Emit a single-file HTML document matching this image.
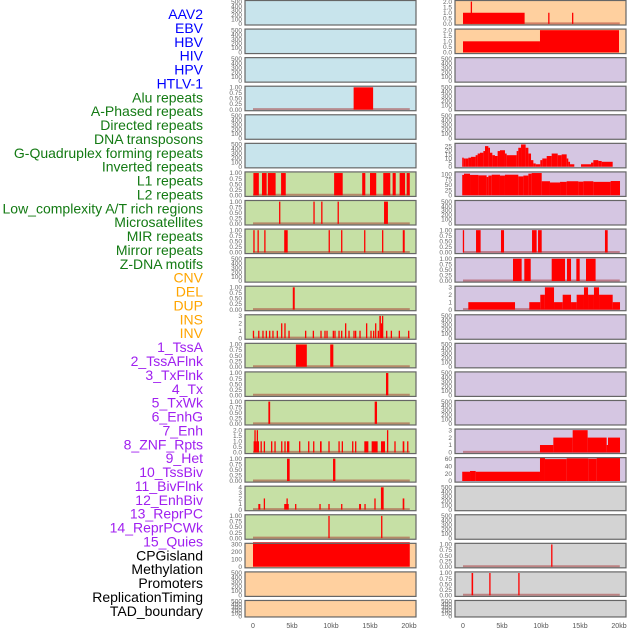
<!DOCTYPE html>
<html><head><meta charset="utf-8"><style>
html,body{margin:0;padding:0;background:#fff;}
svg{display:block;font-family:"Liberation Sans",sans-serif;}
</style></head><body>
<svg id="chart" width="630" height="630" viewBox="0 0 630 630"></svg>
<script>
// ---- labels ----
const labelNames = ["AAV2","EBV","HBV","HIV","HPV","HTLV-1","Alu repeats","A-Phased repeats","Directed repeats","DNA transposons","G-Quadruplex forming repeats","Inverted repeats","L1 repeats","L2 repeats","Low_complexity A/T rich regions","Microsatellites","MIR repeats","Mirror repeats","Z-DNA motifs","CNV","DEL","DUP","INS","INV","1_TssA","2_TssAFlnk","3_TxFlnk","4_Tx","5_TxWk","6_EnhG","7_Enh","8_ZNF_Rpts","9_Het","10_TssBiv","11_BivFlnk","12_EnhBiv","13_ReprPC","14_ReprPCWk","15_Quies","CPGisland","Methylation","Promoters","ReplicationTiming","TAD_boundary"];
const labelGroupSizes = [6,13,5,15,5];
const labelGroupColors = ["#0000ff","#137a13","#ffa500","#a020f0","#000000"];

// ---- tick sets ----
const ticks500 = [0,100,200,300,400,500];
const ticks1 = [0,0.25,0.5,0.75,1];
const ticks2h = [0,0.5,1,1.5,2];
const ticks3 = [0,1,2,3];
const ticks4 = [0,1,2,3,4];
const ticks300 = [0,100,200,300];
const ticksG = [0,5,10,15,20,25];
const ticksL1 = [0,25,50,75,100];
const ticks60 = [0,20,40,60];
const xTickValues = [0,5,10,15,20];
const xTickLabels = ["0","5kb","10kb","15kb","20kb"];

// ---- left column series: [startKb, endKb, value] ----
const aluData = [[12.9,15.4,1]];
const l1Data = [[0.05,0.75,1],[1.15,1.75,1],[1.9,2.9,1],[3.6,4.2,1],[10.4,11.5,1],[14.0,14.4,1],[15.0,15.8,1],[16.7,17.6,1],[17.9,18.3,1],[18.8,19.5,1],[19.7,20.1,1]];
const l2Data = [[3.35,3.5,1],[7.75,7.9,1],[8.75,8.9,1],[10.85,11.0,1],[16.8,17.3,1]];
const lowData = [[0.05,0.2,1],[0.6,0.72,1],[1.45,1.6,1],[4.0,4.45,1],[9.7,9.85,1],[11.3,11.45,1],[14.25,14.4,1],[16.55,16.7,1],[19.2,19.45,1]];
const mirData = [[5.1,5.35,1]];
const mirrorData = [[0,0.12,1],[0.68,0.8,1],[1.22,1.34,1],[1.65,1.77,1],[2.08,2.2,1],[2.5,2.62,1],[3.06,3.18,1],[3.62,3.74,2],[4.04,4.16,2],[4.56,4.68,1],[6.69,6.81,1],[7.68,7.8,1],[8.66,8.78,1],[9.17,9.29,1],[9.43,9.55,1],[10.24,10.36,1],[10.45,10.57,1],[10.97,11.09,1],[11.31,11.43,1],[11.82,11.94,2],[12.25,12.37,1],[12.89,13.01,1],[13.1,13.22,1],[13.66,13.78,1],[14.51,14.63,2],[15.07,15.19,1],[15.41,15.53,1],[15.67,15.79,2],[16.01,16.13,1],[16.2,16.4,3],[16.4,16.55,2],[16.56,16.68,3],[17.08,17.2,1],[17.68,17.8,1],[18.7,18.82,1],[19.9,20.02,1]];
const cnvData = [[5.5,6.9,1],[9.9,10.3,1]];
const insData = [[17.05,17.35,1]];
const invData = [[1.97,2.2,1],[15.6,15.9,1]];
const tssAFlnkData = [[0.12,0.2,1],[0.2,0.32,2],[0.32,0.5,1],[0.5,0.62,2],[0.62,0.75,1],[1.0,1.1,1],[1.4,1.52,1],[2.34,2.45,1],[2.77,2.88,1],[3.63,3.74,1],[4.05,4.16,1],[4.36,4.66,1],[5.93,6.04,1],[7.09,7.2,1],[7.73,7.84,1],[8.59,8.8,1],[9.69,9.8,1],[10.98,11.09,1],[11.4,11.51,1],[12.73,12.84,1],[13.11,13.22,1],[14.27,14.79,1],[15.21,15.98,1],[16.41,16.92,1],[17.2,17.32,2],[18.15,18.26,1],[19.19,19.4,1],[19.78,19.9,1]];
const enhGData = [[4.36,4.7,1],[10.26,10.56,1]];
const tssBivData = [[0.68,0.94,1],[1.4,1.52,2],[4.0,4.3,1],[4.3,4.45,2],[4.45,4.55,1],[5.42,5.53,1],[8.54,8.65,1],[9.69,9.8,1],[11.32,11.43,1],[13.6,13.85,1],[14.31,14.42,1],[15.58,15.7,2],[16.4,16.75,4],[19.19,19.4,2]];
const enhBivData = [[9.69,9.8,1],[16.45,16.56,1]];
const cpgData = [[0,20.1,330]];

// ---- right column series ----
const aav2Data = [[0,7.9,1],[1.0,1.15,2],[10.94,11.07,1],[14.0,14.12,1]];
const ebvData = [[0,9.87,1],[9.87,20.0,2]];
const gquadEdges = [-0.17,0.09,0.34,0.68,1.03,1.62,1.88,2.18,2.61,2.82,3.25,3.46,3.76,4.10,4.44,4.74,5.38,5.6,6.88,7.09,7.44,8.03,8.38,8.72,9.02,9.32,9.91,10.17,10.73,11.37,12.14,12.65,13.29,13.5,13.72,14.27,15.13,16.41,16.71,17.35,17.78,19.19];
const gquadValues = [11,10,10,11,12,14,16,17,19,25,23,17,14,13,19,20,16,14,19,23,27,23,16,8,4,3,8,10,13,16,14,15,10,6,3,0,3,5,8,7,6];
const l1HistEdges = [-0.17,0.13,0.9,1.97,3.03,3.25,3.68,4.74,5.38,7.09,7.74,8.38,8.8,10.09,11.15,12.44,13.29,14.79,15.43,16.71,18.93,20.13];
const l1HistValues = [97,103,97,95,87,94,98,94,98,90,94,103,106,67,61,64,67,65,67,64,68];
const microData = [[0,0.12,1],[1.67,2.26,1],[4.87,5.26,1],[8.85,9.44,1],[9.62,10.09,1],[18.2,18.55,1]];
const zdnaData = [[6.41,7.52,1],[7.86,8.68,1],[11.37,13.08,1],[13.33,13.85,1],[14.53,14.96,1],[15.77,17.0,1]];
const cnvHistEdges = [0.68,6.67,8.5,9.91,10.5,11.67,12.78,13.85,14.57,15.51,16.03,16.79,17.44,19.19,20.13];
const cnvHistValues = [1,0,1,2,3,1,2,1,2,3,2,3,2,1];
const enhHistEdges = [9.87,11.58,14.06,15.98,18.42,18.59,20.13];
const enhHistValues = [1,2,3,2,1,2];
const hetHistEdges = [-0.17,0.9,1.62,9.87,10.51,13.29,16.07,17.14,20.13];
const hetHistValues = [25,27,25,62,59,61,60,62];
const methData = [[11.32,11.45,1]];
const promData = [[1.1,1.3,1],[3.38,3.52,1],[7.1,7.24,1]];

function hist(edges, vals){ const out=[]; for(let i=0;i<vals.length;i++) out.push([edges[i],edges[i+1],vals[i]]); return out; }

const BLUE="#c8e4ec", GREEN="#c6e0a5", ORANGE="#ffd09f", PURPLE="#d5c6e2", GRAY="#d3d3d3";
const leftPanels = [
 {name:"aav2-left",bg:BLUE,ticks:ticks500,data:null},
 {name:"ebv-left",bg:BLUE,ticks:ticks500,data:null},
 {name:"hbv-left",bg:BLUE,ticks:ticks500,data:null},
 {name:"alu-left",bg:BLUE,ticks:ticks1,data:aluData},
 {name:"empty-left-5",bg:BLUE,ticks:ticks500,data:null},
 {name:"empty-left-6",bg:BLUE,ticks:ticks500,data:null},
 {name:"l1-left",bg:GREEN,ticks:ticks1,data:l1Data},
 {name:"l2-left",bg:GREEN,ticks:ticks1,data:l2Data},
 {name:"low-complexity-left",bg:GREEN,ticks:ticks1,data:lowData},
 {name:"empty-left-10",bg:GREEN,ticks:ticks500,data:null},
 {name:"mir-left",bg:GREEN,ticks:ticks1,data:mirData},
 {name:"mirror-left",bg:GREEN,ticks:ticks3,data:mirrorData},
 {name:"cnv-left",bg:GREEN,ticks:ticks1,data:cnvData},
 {name:"ins-left",bg:GREEN,ticks:ticks1,data:insData},
 {name:"inv-left",bg:GREEN,ticks:ticks1,data:invData},
 {name:"tssaflnk-left",bg:GREEN,ticks:ticks2h,data:tssAFlnkData,fmt:1},
 {name:"enhg-left",bg:GREEN,ticks:ticks1,data:enhGData},
 {name:"tssbiv-left",bg:GREEN,ticks:ticks4,data:tssBivData},
 {name:"enhbiv-left",bg:GREEN,ticks:ticks1,data:enhBivData},
 {name:"cpgisland-left",bg:ORANGE,ticks:ticks300,data:cpgData,nobase:true},
 {name:"methylation-left",bg:ORANGE,ticks:ticks500,data:null},
 {name:"tad-left",bg:ORANGE,ticks:ticks500,data:null}
];
const rightPanels = [
 {name:"aav2-right",bg:ORANGE,ticks:ticks2h,data:aav2Data,fmt:1},
 {name:"ebv-right",bg:ORANGE,ticks:ticks2h,data:ebvData,fmt:1,nobase:true},
 {name:"empty-right-3",bg:PURPLE,ticks:ticks500,data:null},
 {name:"empty-right-4",bg:PURPLE,ticks:ticks500,data:null},
 {name:"empty-right-5",bg:PURPLE,ticks:ticks500,data:null},
 {name:"gquad-right",bg:PURPLE,ticks:ticksG,data:hist(gquadEdges,gquadValues),ymax:27,nobase:true},
 {name:"l1-right",bg:PURPLE,ticks:ticksL1,data:hist(l1HistEdges,l1HistValues),ymax:106,nobase:true},
 {name:"empty-right-8",bg:PURPLE,ticks:ticks500,data:null},
 {name:"microsat-right",bg:PURPLE,ticks:ticks1,data:microData},
 {name:"zdna-right",bg:PURPLE,ticks:ticks1,data:zdnaData},
 {name:"cnv-right",bg:PURPLE,ticks:ticks3,data:hist(cnvHistEdges,cnvHistValues)},
 {name:"empty-right-12",bg:PURPLE,ticks:ticks500,data:null},
 {name:"empty-right-13",bg:PURPLE,ticks:ticks500,data:null},
 {name:"empty-right-14",bg:PURPLE,ticks:ticks500,data:null},
 {name:"empty-right-15",bg:PURPLE,ticks:ticks500,data:null},
 {name:"enh-right",bg:PURPLE,ticks:ticks3,data:hist(enhHistEdges,enhHistValues)},
 {name:"het-right",bg:PURPLE,ticks:ticks60,data:hist(hetHistEdges,hetHistValues),nobase:true},
 {name:"empty-right-18",bg:GRAY,ticks:ticks500,data:null},
 {name:"empty-right-19",bg:GRAY,ticks:ticks500,data:null},
 {name:"methylation-right",bg:GRAY,ticks:ticks1,data:methData},
 {name:"promoters-right",bg:GRAY,ticks:ticks1,data:promData},
 {name:"tad-right",bg:GRAY,ticks:ticks500,data:null}
];

const NS="http://www.w3.org/2000/svg";
const svg=document.getElementById("chart");
function mk(tag,attrs,parent){const e=document.createElementNS(NS,tag);for(const k in attrs)e.setAttribute(k,attrs[k]);(parent||svg).appendChild(e);return e;}

// labels
let li=0;
labelGroupSizes.forEach((n,g)=>{for(let j=0;j<n;j++){
  const t=mk("text",{x:203,y:19+li*13.88,"text-anchor":"end","font-size":14,fill:labelGroupColors[g]});
  
  
  t.textContent=labelNames[li]; li++;}});

const PITCH=28.57;
function fmtTick(v,ticks,p){
  if(p.fmt===1) return v.toFixed(1);
  if(ticks===ticks1) return v.toFixed(2);
  return String(v);
}
function drawColumn(panels, left, right, x0px){
  const x20px=x0px+156;
  const xs=kb=>x0px+(x20px-x0px)*kb/20;
  panels.forEach((p,r)=>{
    const top=r*PITCH+0.5, h=(r===21)?16.5:24.5, bot=top+h;
    const g=mk("g",{});
    
    
    mk("rect",{x:left,y:top,width:right-left,height:h,fill:p.bg},g);
    const tmax=p.ticks[p.ticks.length-1];
    const ymax=Math.max(tmax,p.ymax||0);
    const lo=-0.05*ymax, hi=ymax*1.05;
    const ys=v=>bot-(v-lo)/(hi-lo)*h;
    p.ticks.forEach(v=>{
      const t=mk("text",{x:left-3,y:ys(v)+2.2,"text-anchor":"end","font-size":6.5,fill:"#666"},g);
      
      
      t.textContent=fmtTick(v,p.ticks,p);
    });
    if(p.data){
      if(!p.nobase){
        const b=mk("line",{x1:xs(0),x2:xs(20.1),y1:ys(0)-0.5,y2:ys(0)-0.5,stroke:"rgba(160,30,30,0.45)","stroke-width":2},g);
        
        
      }
      p.data.forEach(d=>{
        if(d[2]<=0) return;
        let x1=xs(Math.max(d[0],-0.1)), x2=xs(d[1]);
        if(x2-x1<1.3){const c=(x1+x2)/2;x1=c-0.65;x2=c+0.65;}
        const b=mk("rect",{x:x1,y:ys(d[2]),width:x2-x1,height:ys(0)-ys(d[2]),fill:"#ff0000"},g);
        
        
      });
    }
    mk("rect",{x:left,y:top,width:right-left,height:h,fill:"none",stroke:"#666","stroke-width":1.2},g);
  });
  xTickValues.forEach((v,i)=>{
    const t=mk("text",{x:xs(v),y:628,"text-anchor":"middle","font-size":7,fill:"#555"});
    
    
    t.textContent=xTickLabels[i];
  });
}
drawColumn(leftPanels,245,416,253);
drawColumn(rightPanels,455,626,463);
</script>
</body></html>
